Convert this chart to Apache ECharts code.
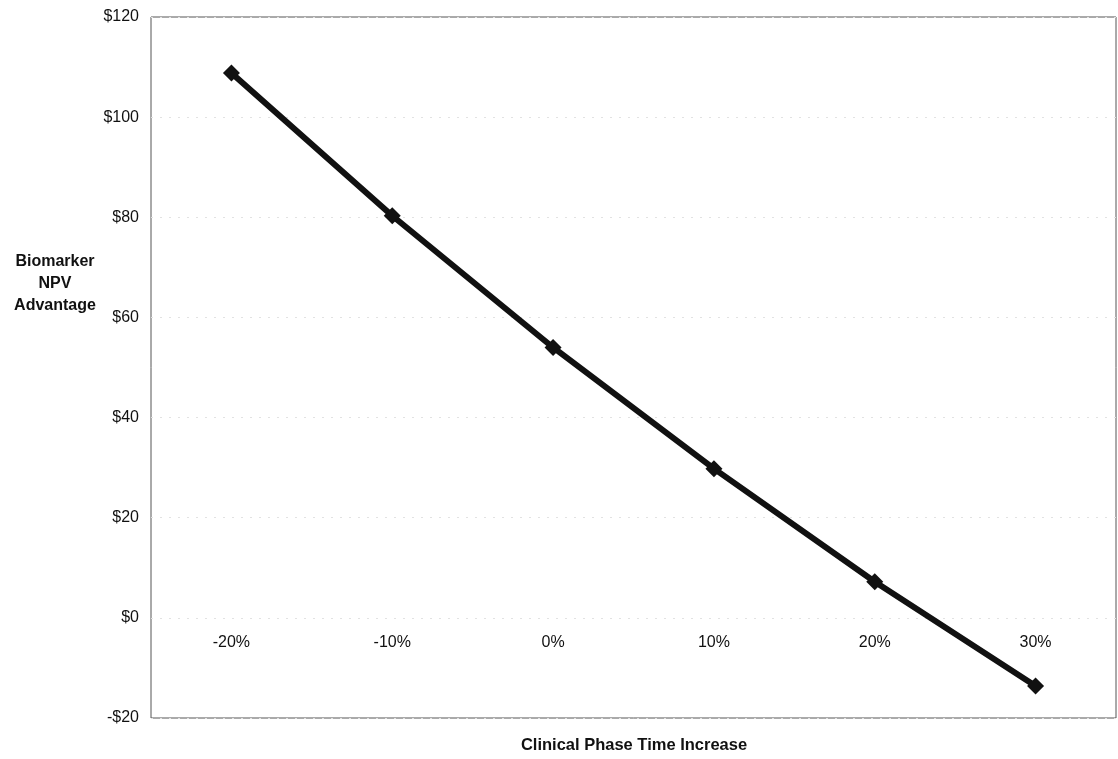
<!DOCTYPE html>
<html>
<head>
<meta charset="utf-8">
<script src="https://cdn.jsdelivr.net/npm/echarts@6/dist/echarts.min.js"></script>
<style>
  html, body { margin: 0; padding: 0; background: #fff; }
  #chart { width: 1118px; height: 759px; }
</style>
</head>
<body>
<div id="chart"></div>
<script>
// Sensitivity of the biomarker NPV advantage to clinical phase duration
const categories = ['-20%', '-10%', '0%', '10%', '20%', '30%'];
const npvAdvantage = [108.8, 80.3, 54.0, 29.8, 7.2, -13.6];
const yTicks = { min: -20, max: 120, step: 20 };

const font = '"Liberation Sans", Arial, Helvetica, sans-serif';
const chart = echarts.init(document.getElementById('chart'));

function money(v) {
  return v < 0 ? '-$' + Math.abs(v) : '$' + v;
}

chart.setOption({
  animation: false,
  backgroundColor: '#ffffff',
  grid: {
    left: 151, right: 2, top: 17, bottom: 41,
    show: true, borderColor: '#555', borderWidth: 1
  },
  xAxis: {
    type: 'category',
    data: categories,
    boundaryGap: true,
    axisLine: { show: false, onZero: false },
    axisTick: { show: false },
    // category labels are pulled up to sit just under the $0 line
    axisLabel: { color: '#111', fontFamily: font, fontSize: 16, margin: -83 },
    splitLine: { show: false }
  },
  yAxis: {
    type: 'value',
    min: yTicks.min, max: yTicks.max, interval: yTicks.step,
    axisLine: { show: false },
    axisTick: { show: false },
    axisLabel: { color: '#111', fontFamily: font, fontSize: 16, margin: 12, formatter: money },
    splitLine: { show: true, lineStyle: { color: '#e2e2e2', type: [2, 7], width: 1 } }
  },
  graphic: [
    {
      type: 'text', x: 55, y: 251,
      style: {
        text: 'Biomarker\nNPV\nAdvantage',
        font: 'bold 16px ' + font, fill: '#111',
        textAlign: 'center', lineHeight: 22
      }
    },
    {
      type: 'text', x: 634, y: 737,
      style: {
        text: 'Clinical Phase Time Increase',
        font: 'bold 16.5px ' + font, fill: '#111',
        textAlign: 'center'
      }
    }
  ],
  series: [{
    type: 'line',
    data: npvAdvantage,
    symbol: 'diamond',
    symbolSize: 17,
    lineStyle: { color: '#111', width: 6 },
    itemStyle: { color: '#111' }
  }]
});
</script>
</body>
</html>
